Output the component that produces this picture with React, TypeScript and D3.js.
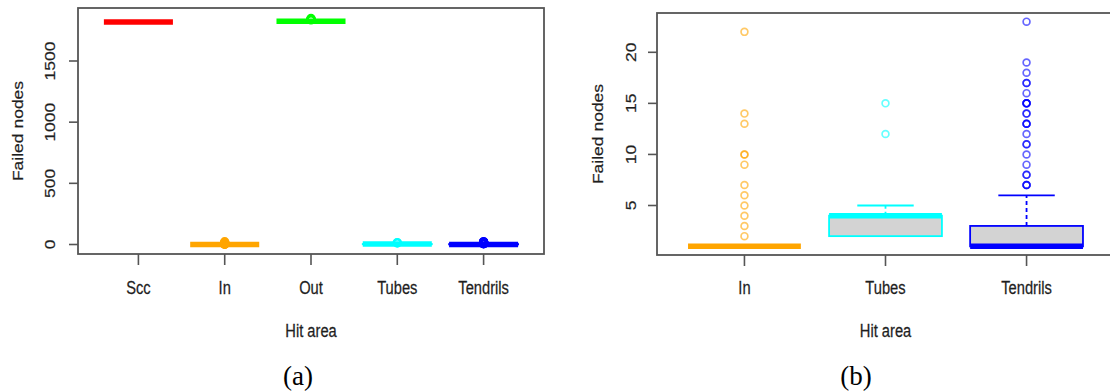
import React from "react";
import * as d3 from "d3";

// ---- data: failed nodes by hit area ----
const areasA = ["Scc", "In", "Out", "Tubes", "Tendrils"];
const q1A = [1819, 1, 1825, 2, 1];
const medianA = [1819, 1, 1825, 4, 1];
const q3A = [1819, 1, 1825, 4, 3];
const whiskerLoA = [1819, 1, 1825, 2, 1];
const whiskerHiA = [1819, 1, 1825, 5, 6];
const outliersScc: number[] = [];
const outliersIn = [2, 3, 4, 5, 6, 7, 9, 10, 10, 13, 14, 22];
const outliersOut = [1836, 1840, 1843, 1847];
const outliersTubes = [12, 15];
const outliersTendrils = [7, 7, 7, 8, 8, 9, 10, 11, 11, 12, 13, 13, 13, 14, 14, 15, 15, 15, 15, 16, 17, 17, 18, 19, 23];
const outliersA = [outliersScc, outliersIn, outliersOut, outliersTubes, outliersTendrils];
const yTicksA = [0, 500, 1000, 1500];

const areasB = ["In", "Tubes", "Tendrils"];
const q1B = [1, 2, 1];
const medianB = [1, 4, 1];
const q3B = [1, 4, 3];
const whiskerLoB = [1, 2, 1];
const whiskerHiB = [1, 5, 6];
const outliersB = [outliersIn, outliersTubes, outliersTendrils];
const yTicksB = [5, 10, 15, 20];

const colorsA = ["#ff0000", "#ffa500", "#00ff00", "#00ffff", "#0000ff"];
const colorsB = ["#ffa500", "#00ffff", "#0000ff"];

const W = 1110;
const H = 392;
const FONT = "'Liberation Sans', Arial, Helvetica, sans-serif";
const FS = 17.5;
const SQUEEZE = 0.84;
const INK = "#1e1e1e";
const AXIS = "#555";

function HText({ x, y, children }: { x: number; y: number; children: React.ReactNode }) {
  return (
    <text
      transform={`translate(${x},${y}) scale(${SQUEEZE},1)`}
      textAnchor="middle"
      fontFamily={FONT}
      fontSize={FS}
      fill={INK}
      stroke={INK}
      strokeWidth={0.25}
    >
      {children}
    </text>
  );
}

function VText({ x, y, children }: { x: number; y: number; children: React.ReactNode }) {
  return (
    <text
      transform={`translate(${x},${y}) rotate(-90) scale(1,${SQUEEZE})`}
      textAnchor="middle"
      fontFamily={FONT}
      fontSize={FS}
      fill={INK}
      stroke={INK}
      strokeWidth={0.25}
    >
      {children}
    </text>
  );
}

type PanelProps = {
  frame: { x0: number; x1: number; y0: number; y1: number };
  x: d3.ScaleLinear<number, number>;
  y: d3.ScaleLinear<number, number>;
  cats: string[];
  q1: number[];
  med: number[];
  q3: number[];
  lo: number[];
  hi: number[];
  outs: number[][];
  colors: string[];
  yTicks: number[];
  tickLabelX: number;
  titleX: number;
  outlierOpacity: number;
  outlierR: number;
  outlierW: number;
  fillBox: string;
};

function BoxPanel(p: PanelProps) {
  const { frame, x, y } = p;
  const step = x(2) - x(1);
  const half = step * 0.4;
  const stapleHalf = step * 0.2;
  const cx = (frame.x0 + frame.x1) / 2;
  const cy = (frame.y0 + frame.y1) / 2;
  return (
    <g>
      {p.cats.map((c, i) => {
        const xc = x(i + 1);
        const col = p.colors[i];
        return (
          <g key={c}>
            {/* whiskers */}
            <line x1={xc} x2={xc} y1={y(p.q3[i])} y2={y(p.hi[i])} stroke={col} strokeWidth={1.8} strokeDasharray="4,3" />
            <line x1={xc} x2={xc} y1={y(p.q1[i])} y2={y(p.lo[i])} stroke={col} strokeWidth={1.8} strokeDasharray="4,3" />
            <line x1={xc - stapleHalf} x2={xc + stapleHalf} y1={y(p.hi[i])} y2={y(p.hi[i])} stroke={col} strokeWidth={1.8} />
            <line x1={xc - stapleHalf} x2={xc + stapleHalf} y1={y(p.lo[i])} y2={y(p.lo[i])} stroke={col} strokeWidth={1.8} />
            {/* box */}
            <rect
              x={xc - half}
              y={y(p.q3[i])}
              width={2 * half}
              height={Math.max(0, y(p.q1[i]) - y(p.q3[i]))}
              fill={p.fillBox}
              stroke={col}
              strokeWidth={1.8}
            />
            {/* median */}
            <line x1={xc - half} x2={xc + half} y1={y(p.med[i])} y2={y(p.med[i])} stroke={col} strokeWidth={5.5} />
            {/* outliers */}
            {p.outs[i].map((v, k) => (
              <circle
                key={k}
                cx={xc}
                cy={y(v)}
                r={p.outlierR}
                fill="none"
                stroke={col}
                strokeWidth={p.outlierW}
                strokeOpacity={p.outlierOpacity}
              />
            ))}
          </g>
        );
      })}

      {/* frame */}
      <rect
        x={frame.x0}
        y={frame.y0}
        width={frame.x1 - frame.x0}
        height={frame.y1 - frame.y0}
        fill="none"
        stroke={AXIS}
        strokeWidth={1.8}
      />

      {/* y axis */}
      {p.yTicks.map((t) => (
        <g key={t}>
          <line x1={frame.x0 - 9} x2={frame.x0} y1={y(t)} y2={y(t)} stroke={AXIS} strokeWidth={1.6} />
          <VText x={p.tickLabelX} y={y(t)}>{t}</VText>
        </g>
      ))}
      <VText x={p.titleX} y={cy}>Failed nodes</VText>

      {/* x axis */}
      {p.cats.map((c, i) => (
        <g key={c}>
          <line x1={x(i + 1)} x2={x(i + 1)} y1={frame.y1} y2={frame.y1 + 11} stroke={AXIS} strokeWidth={1.6} />
          <HText x={x(i + 1)} y={294}>{c}</HText>
        </g>
      ))}
      <HText x={cx} y={337}>Hit area</HText>
    </g>
  );
}

export default function App() {
  const frameA = { x0: 78, x1: 544, y0: 8, y1: 254 };
  const xA = d3.scaleLinear().domain([0.3, 5.7]).range([frameA.x0, frameA.x1]);
  const yA = d3.scaleLinear().domain([0, 1500]).range([244.5, 61]);

  const frameB = { x0: 657, x1: 1114, y0: 13, y1: 255 };
  const xB = d3.scaleLinear().domain([0.38, 3.62]).range([frameB.x0, frameB.x1]);
  const yB = d3.scaleLinear().domain([5, 20]).range([205.5, 52.3]);

  return (
    <div style={{ position: "absolute", left: 0, top: 0 }}>
      <svg width={W} height={H} viewBox={`0 0 ${W} ${H}`} style={{ display: "block", background: "#fff" }}>
        <BoxPanel
          frame={frameA}
          x={xA}
          y={yA}
          cats={areasA}
          q1={q1A}
          med={medianA}
          q3={q3A}
          lo={whiskerLoA}
          hi={whiskerHiA}
          outs={outliersA}
          colors={colorsA}
          yTicks={yTicksA}
          tickLabelX={55}
          titleX={23}
          outlierOpacity={1}
          outlierR={3.6}
          outlierW={2.2}
          fillBox="none"
        />
        <BoxPanel
          frame={frameB}
          x={xB}
          y={yB}
          cats={areasB}
          q1={q1B}
          med={medianB}
          q3={q3B}
          lo={whiskerLoB}
          hi={whiskerHiB}
          outs={outliersB}
          colors={colorsB}
          yTicks={yTicksB}
          tickLabelX={636}
          titleX={603}
          outlierOpacity={0.6}
          outlierR={3.4}
          outlierW={1.7}
          fillBox="#d3d3d3"
        />
        <text x={298} y={385} textAnchor="middle" fontFamily="'Liberation Serif', 'Times New Roman', serif" fontSize={27} fill="#000">
          (a)
        </text>
        <text x={856} y={385} textAnchor="middle" fontFamily="'Liberation Serif', 'Times New Roman', serif" fontSize={27} fill="#000">
          (b)
        </text>
      </svg>
    </div>
  );
}
